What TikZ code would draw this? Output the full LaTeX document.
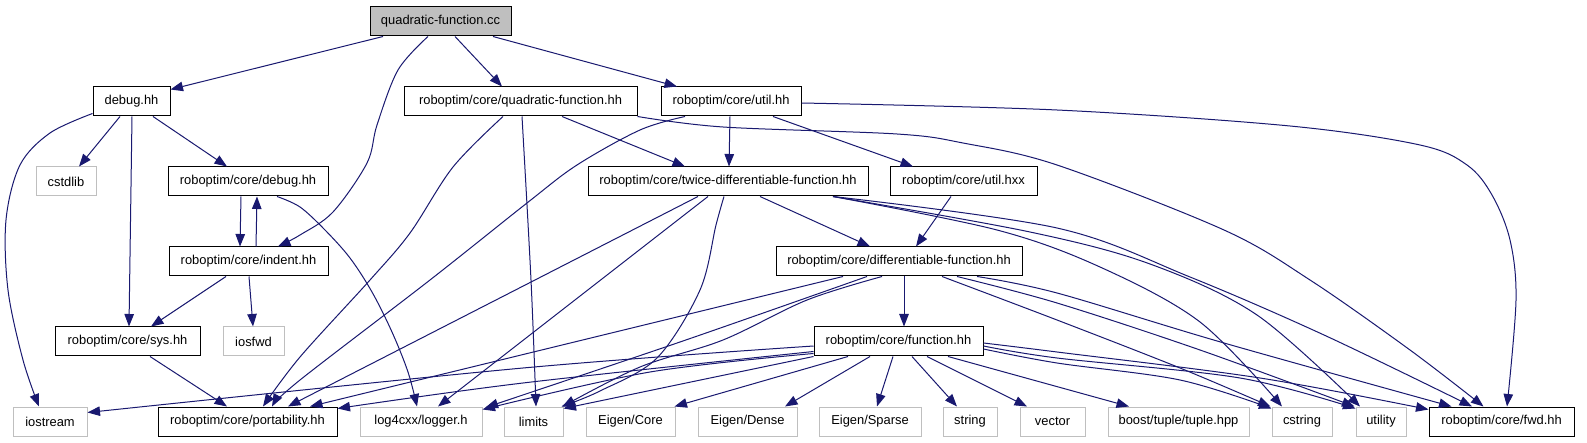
\documentclass[tikz,border=0pt]{standalone}
\usepackage{fontspec}
\setmainfont{Liberation Sans}
\usetikzlibrary{arrows.meta}
\definecolor{eblue}{HTML}{191970}
\definecolor{lgray}{HTML}{BFBFBF}
\begin{document}
\begin{tikzpicture}[x=1pt,y=-1pt,
  box/.style={draw=black,line width=1pt,fill=white,minimum height=29pt,inner sep=0pt,font=\fontsize{12.9}{15}\selectfont},
  gbox/.style={box,draw=lgray},
  edge/.style={draw=eblue,line width=1pt,-{Triangle[length=12.5pt,width=9.5pt]}},
  sm/.style={smooth,tension=0.55}]
\useasboundingbox[fill=white] (0,0) rectangle (1587,443);
% nodes
\node[box,fill=lgray,minimum width=141pt] (qcc) at (440.5,21.5) {quadratic-function.cc};
\node[box,minimum width=77pt] (debug) at (131.5,101.5) {debug.hh};
\node[gbox,minimum width=60pt] (cstdlib) at (66,181.5) {cstdlib};
\node[box,minimum width=160pt] (rdebug) at (248,181.5) {roboptim/core/debug.hh};
\node[box,minimum width=233pt] (quad) at (520.5,101.5) {roboptim/core/quadratic-function.hh};
\node[box,minimum width=140pt] (util) at (731,101.5) {roboptim/core/util.hh};
\node[box,minimum width=280pt] (twice) at (728,181.5) {roboptim/core/twice-differentiable-function.hh};
\node[box,minimum width=147pt] (hxx) at (963.5,181.5) {roboptim/core/util.hxx};
\node[box,minimum width=159pt] (indent) at (248.5,261.5) {roboptim/core/indent.hh};
\node[box,minimum width=246pt] (diff) at (899,261.5) {roboptim/core/differentiable-function.hh};
\node[box,minimum width=145pt] (sys) at (127.5,341.5) {roboptim/core/sys.hh};
\node[gbox,minimum width=61pt] (iosfwd) at (253.5,341.5) {iosfwd};
\node[box,minimum width=169pt] (func) at (898.5,341.5) {roboptim/core/function.hh};
\node[gbox,minimum width=74pt] (iostream) at (50,421.5) {iostream};
\node[box,minimum width=179pt] (port) at (247.5,421.5) {roboptim/core/portability.hh};
\node[gbox,minimum width=122pt] (log) at (421,421.5) {log4cxx/logger.h};
\node[gbox,minimum width=59pt] (limits) at (533.5,421.5) {limits};
\node[gbox,minimum width=89pt] (ecore) at (630.5,421.5) {Eigen/Core};
\node[gbox,minimum width=99pt] (edense) at (747.5,421.5) {Eigen/Dense};
\node[gbox,minimum width=102pt] (esparse) at (870,421.5) {Eigen/Sparse};
\node[gbox,minimum width=54pt] (string) at (970,421.5) {string};
\node[gbox,minimum width=65pt] (vector) at (1052.5,421.5) {vector};
\node[gbox,minimum width=141pt] (tuple) at (1178.5,421.5) {boost/tuple/tuple.hpp};
\node[gbox,minimum width=60pt] (cstring) at (1302,421.5) {cstring};
\node[gbox,minimum width=50pt] (utility) at (1381,421.5) {utility};
\node[box,minimum width=145pt] (fwd) at (1501.5,421.5) {roboptim/core/fwd.hh};
% edges from quadratic-function.cc
\draw[edge] ([xshift=-57.5pt]qcc.south) -- ([yshift=-3pt]debug.north east);
\draw[edge] plot[sm] coordinates {([xshift=-12.5pt]qcc.south) (398,70) (377,125) (367,163) (333,212) (300,235) ([xshift=29.5pt]indent.north)};
\draw[edge] ([xshift=14.5pt]qcc.south) -- ([xshift=-18.5pt]quad.north);
\draw[edge] ([xshift=52.5pt]qcc.south) -- ([xshift=-54pt]util.north);
% debug.hh
\draw[edge] plot[sm] coordinates {([yshift=3pt]debug.south west) (50,133) (20,165) (6,220) (8,290) (23,360) ([xshift=-11pt]iostream.north)};
\draw[edge] ([xshift=-11.5pt]debug.south) -- ([xshift=13pt]cstdlib.north);
\draw[edge] ([xshift=0.5pt]debug.south) -- ([xshift=1.5pt]sys.north);
\draw[edge] ([xshift=21.5pt]debug.south) -- ([xshift=-21pt]rdebug.north);
% roboptim/core/debug.hh and indent.hh
\draw[edge] ([xshift=-7pt]rdebug.south) -- ([xshift=-8.5pt]indent.north);
\draw[edge] ([xshift=7.5pt]indent.north) -- ([xshift=9pt]rdebug.south);
\draw[edge] plot[sm] coordinates {([xshift=29pt]rdebug.south) (300,207) (325,230) (350,258) (372,292) (392,332) (408,372) ([xshift=-4pt]log.north)};
\draw[edge] ([xshift=-22.5pt]indent.south) -- ([xshift=23.5pt]sys.north);
\draw[edge] ([xshift=0.5pt]indent.south) -- ([xshift=-0.5pt]iosfwd.north);
\draw[edge] ([xshift=22.5pt]sys.south) -- ([xshift=-20.5pt]port.north);
% quadratic-function.hh
\draw[edge] plot[sm] coordinates {([xshift=-17.5pt]quad.south) (453,167) (410,233) (370,280) (300,357) ([xshift=15.5pt]port.north)};
\draw[edge] plot[sm] coordinates {([xshift=1.5pt]quad.south) (531,280) ([xshift=2.5pt]limits.north)};
\draw[edge] ([xshift=41.5pt]quad.south) -- ([xshift=-43pt]twice.north);
\draw[edge] plot[sm] coordinates {(quad.south east) (723,127) (897,134) (963,143) (1057,165) (1224,230) (1310,280) (1410,350) ([xshift=-18pt]fwd.north)};
% util.hh
\draw[edge] plot[sm] coordinates {([xshift=-46pt]util.south) (640,130) (577,165) (527,203) (430,280) (300,380) ([xshift=24.5pt]port.north)};
\draw[edge] ([xshift=-1pt]util.south) -- ([xshift=1pt]twice.north);
\draw[edge] ([xshift=42pt]util.south) -- ([xshift=-50.5pt]hxx.north);
\draw[edge] plot[sm] coordinates {([yshift=-1.5pt]util.east) (1057,110) (1290,126) (1420,145) (1467,165) (1492,195) (1510,240) (1516,300) ([xshift=5.5pt]fwd.north)};
\draw[edge] ([xshift=-12.5pt]hxx.south) -- ([xshift=17pt]diff.north);
% twice-differentiable-function.hh
\draw[edge] ([xshift=-30pt]twice.south) -- ([xshift=40.5pt]port.north);
\draw[edge] ([xshift=-20pt]twice.south) -- ([xshift=17pt]log.north);
\draw[edge] plot[sm] coordinates {([xshift=-4pt]twice.south) (716,225) (700,290) (657,358) (600,391) ([xshift=-2pt]limits.north east)};
\draw[edge] ([xshift=32pt]twice.south) -- ([xshift=-29pt]diff.north);
\draw[edge] plot[sm] coordinates {([xshift=105pt]twice.south) (1057,228) (1190,277) (1324,335) ([xshift=-29.5pt]fwd.north)};
\draw[edge] plot[sm] coordinates {([xshift=105pt]twice.south) (1030,232) (1150,264) (1257,315) ([xshift=-21pt]utility.north)};
\draw[edge] plot[sm] coordinates {([xshift=105pt]twice.south) (997,230) (1100,267) (1200,322) ([xshift=-20pt]cstring.north)};
% differentiable-function.hh
\draw[edge] ([xshift=-56pt]diff.south) -- ([xshift=62.5pt]port.north);
\draw[edge] plot[sm] coordinates {([xshift=-32pt]diff.south) (680,342) ([xshift=3pt,yshift=-1pt]log.north east)};
\draw[edge] plot[sm] coordinates {([xshift=-17pt]diff.south) (807,300) (723,340) (640,367) ([xshift=-1pt]limits.north east)};
\draw[edge] ([xshift=5pt]diff.south) -- ([xshift=5.5pt]func.north);
\draw[edge] plot[sm] coordinates {([xshift=43pt]diff.south) (1057,320) (1180,368) ([xshift=-1pt]cstring.north west)};
\draw[edge] plot[sm] coordinates {([xshift=58pt]diff.south) (1057,303) (1200,350) ([xshift=-1pt]utility.north west)};
\draw[edge] plot[sm] coordinates {([xshift=78pt]diff.south) (1057,293) (1224,343) ([xshift=-50pt]fwd.north)};
% function.hh
\draw[edge] plot[sm] coordinates {([yshift=-4.5pt]func.west) (523,368) ([yshift=-6pt]iostream.north east)};
\draw[edge] plot[sm] coordinates {([yshift=-10pt]func.west) (523,383) ([yshift=-2pt]port.north east)};
\draw[edge] plot[sm] coordinates {([yshift=-12pt]func.west) (650,372) ([yshift=-3pt]log.north east)};
\draw[edge] (func.south west) -- ([yshift=-2pt]limits.north east);
\draw[edge] ([xshift=-50.5pt]func.south) -- ([xshift=-1pt]ecore.north east);
\draw[edge] ([xshift=-28.5pt]func.south) -- ([xshift=37.5pt]edense.north);
\draw[edge] ([xshift=-5.5pt]func.south) -- ([xshift=7pt]esparse.north);
\draw[edge] ([xshift=13.5pt]func.south) -- ([xshift=-13pt]string.north);
\draw[edge] ([xshift=28.5pt]func.south) -- ([xshift=-25.5pt]vector.north);
\draw[edge] ([xshift=49.5pt]func.south) -- ([xshift=-49.5pt]tuple.north);
\draw[edge] plot[sm] coordinates {([yshift=-7.5pt]func.east) (1057,363) (1180,380) ([yshift=-2pt]cstring.north west)};
\draw[edge] plot[sm] coordinates {([yshift=-4.5pt]func.east) (1057,358) (1240,378) ([yshift=-2pt]utility.north west)};
\draw[edge] plot[sm] coordinates {([yshift=-1.5pt]func.east) (1057,352) (1260,378) ([yshift=-3pt]fwd.north west)};
\end{tikzpicture}
\end{document}
